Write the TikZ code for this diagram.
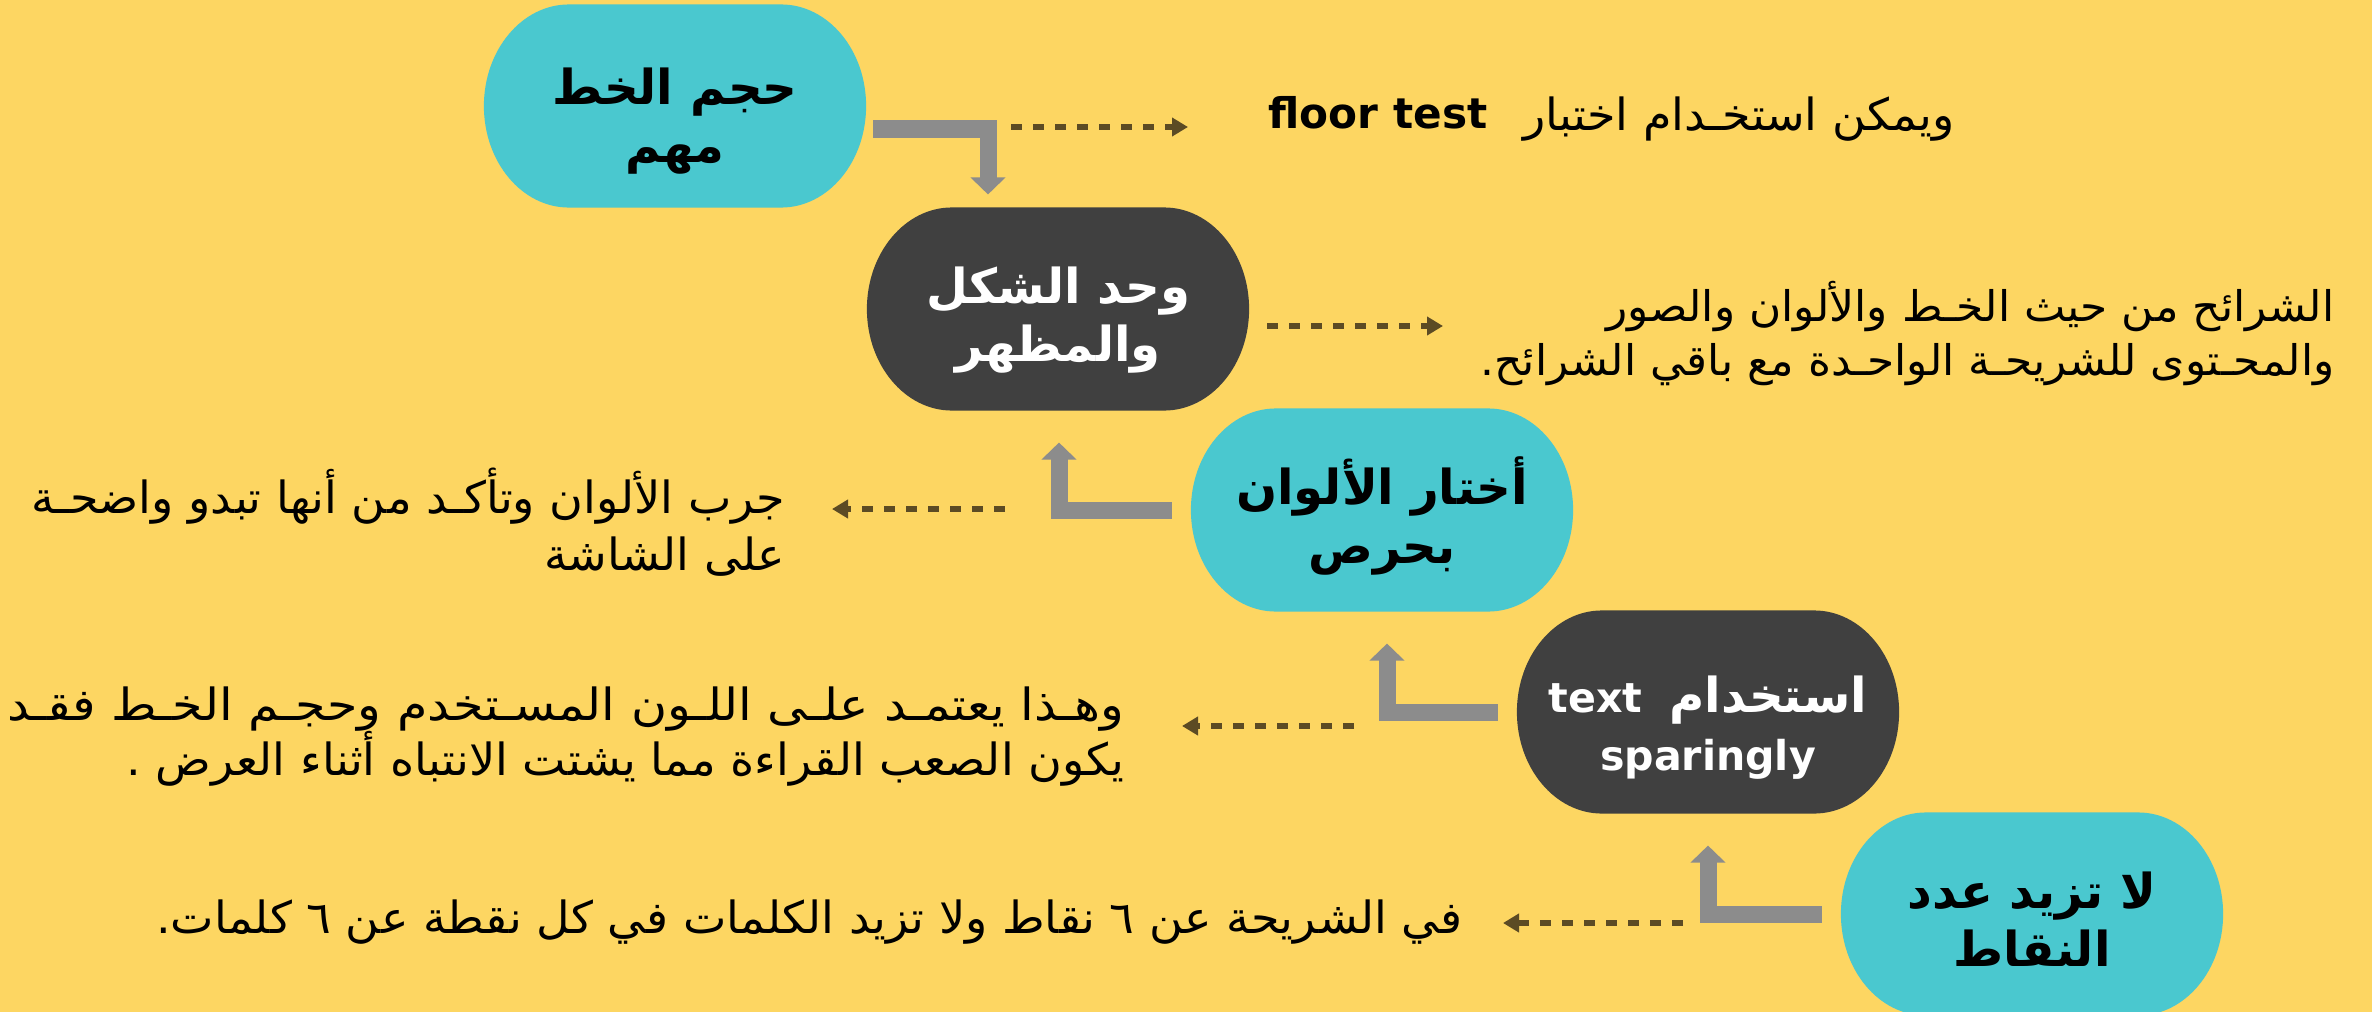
\documentclass[tikz,border=0pt]{standalone}
\usepackage{fontspec}
\usetikzlibrary{arrows.meta,backgrounds}
\TeXXeTstate=1
\newfontfamily\arfont[Script=Arabic]{DejaVu Sans}
\newfontfamily\ardesc[Script=Arabic,FakeStretch=1.04]{DejaVu Sans}
\newfontfamily\ardescw[Script=Arabic,FakeStretch=1.11]{DejaVu Sans}
\newfontfamily\enfont{DejaVu Sans}
\definecolor{bgc}{HTML}{FDD662}
\definecolor{cyanc}{HTML}{4AC8CF}
\definecolor{darkc}{HTML}{404040}
\definecolor{grayc}{HTML}{8C8C8C}
\definecolor{dashc}{HTML}{5C4B24}
\newcommand\stadfill[2]{\fill[#2] ([xshift=-0.85cm]#1.north east) arc[start angle=90,end angle=-90,x radius=0.85cm,y radius=1.015cm] -- ([xshift=0.85cm]#1.south west) arc[start angle=270,end angle=90,x radius=0.85cm,y radius=1.015cm] -- cycle;}
\newcommand\twolines[3]{\raisebox{#1}{\smash{\begin{tabular}[t]{@{}c@{}}#2\\#3\end{tabular}}}}
\newcommand\arb{\fontsize{13.7}{16.5}\selectfont}
\begin{document}
\begin{tikzpicture}[x=0.01cm,y=-0.01cm,
  stad/.style={minimum width=3.82cm,minimum height=2.03cm,inner sep=0,outer sep=0,
    font=\arfont\bfseries\fontsize{11.7}{16.5}\selectfont},
  elbow/.style={draw=grayc,line width=0.17cm,line join=miter,-{Triangle[length=0.17cm,width=0.34cm]}},
  dasharr/.style={draw=dashc,line width=0.06cm,dash pattern=on 0.11cm off 0.11cm,-{Triangle[length=0.16cm,width=0.18cm]}},
  desc/.style={font=\ardesc\fontsize{12.6}{15}\selectfont,inner sep=0,anchor=base east},
  descs/.style={desc,font=\ardesc\fontsize{12}{15}\selectfont},
  descw/.style={desc,font=\ardescw\fontsize{12.6}{15}\selectfont},
  latin/.style={font=\enfont\bfseries\fontsize{12}{14}\selectfont,inner sep=0}]
\useasboundingbox (0,0) rectangle (2372,1012);
% main nodes
\node[stad,text=black] (n1) at (675,106) {\twolines{0.03cm}{\arb\beginR حجم الخط\endR}{\arb\beginR مهم\endR}};
\node[stad,text=white] (n2) at (1058,309) {\twolines{0.12cm}{\arb\beginR وحد الشكل\endR}{\arb\beginR والمظهر\endR}};
\node[stad,text=black] (n3) at (1382,510) {\twolines{0.10cm}{\arb\beginR أختار الألوان\endR}{\arb\beginR بحرص\endR}};
\node[stad,text=white] (n4) at (1708,712) {\twolines{0cm}{{\enfont text}\hspace{0.27cm}{\arb\beginR استخدام\endR}}{{\enfont sparingly}}};
\node[stad,text=black] (n5) at (2032,914) {\twolines{0.12cm}{\arb\beginR لا تزيد عدد\endR}{\arb\beginR النقاط\endR}};
\begin{scope}[on background layer]
\fill[bgc] (0,0) rectangle (2372,1012);
\stadfill{n1}{cyanc}
\stadfill{n2}{darkc}
\stadfill{n3}{cyanc}
\stadfill{n4}{darkc}
\stadfill{n5}{cyanc}
\end{scope}
% elbow connectors
\draw[elbow] ([shift={(7,23)}]n1.east) -| ([shift={(-70,-13)}]n2.north);
\draw[elbow] ([shift={(-19,0)}]n3.west) -| ([shift={(1,32)}]n2.south);
\draw[elbow] ([shift={(-19,0)}]n4.west) -| ([shift={(5,32)}]n3.south);
\draw[elbow] ([shift={(-19,0)}]n5.west) -| ([shift={(0,32)}]n4.south);
% description texts
\node[latin,anchor=base west] (t1en) at (1268,128) {floor test};
\node[desc] (t1ar) at (1955,130) {\beginR ويمكن استخـدام اختبار\endR};
\node[descs] (t2a) at (2335,321) {\beginR الشرائح من حيث الخـط والألوان والصور\endR};
\node[descs] (t2b) at (2335,375) {\beginR والمحـتوى للشريحـة الواحـدة مع باقي الشرائح.\endR};
\node[desc] (t3a) at (786,513) {\beginR جرب الألوان وتأكـد من أنها تبدو واضحـة\endR};
\node[desc] (t3b) at (786,570) {\beginR على الشاشة\endR};
\node[descw] (t4a) at (1125,720) {\beginR وهـذا يعتمـد علـى اللـون المسـتخدم وحجـم الخـط فقـد\endR};
\node[desc] (t4b) at (1125,775) {\beginR يكون الصعب القراءة مما يشتت الانتباه أثناء العرض .\endR};
\node[desc] (t5) at (1463,933) {\beginR في الشريحة عن ٦ نقاط ولا تزيد الكلمات في كل نقطة عن ٦ كلمات.\endR};
% dashed connectors
\coordinate (d1s) at (1011,127); \coordinate (d1e) at (1188,127);
\coordinate (d2s) at (1267,326); \coordinate (d2e) at (1443,326);
\coordinate (d3s) at (1005,509); \coordinate (d3e) at (832,509);
\coordinate (d4s) at (1354,726); \coordinate (d4e) at (1182,726);
\coordinate (d5s) at (1683,923); \coordinate (d5e) at (1503,923);
\draw[dasharr] (d1s) -- (d1e);
\draw[dasharr] (d2s) -- (d2e);
\draw[dasharr] (d3s) -- (d3e);
\draw[dasharr] (d4s) -- (d4e);
\draw[dasharr] (d5s) -- (d5e);
\end{tikzpicture}
\end{document}
